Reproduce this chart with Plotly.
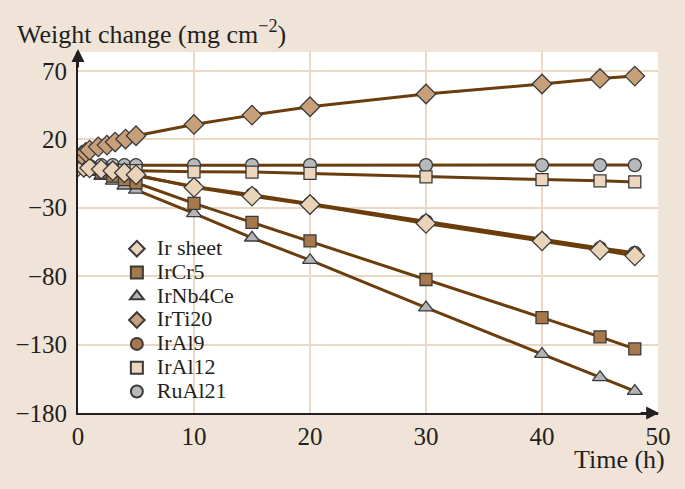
import plotly.graph_objects as go

# ---- data ----
t_std = [0, 0.5, 1, 2, 3, 4, 5, 10, 15, 20, 30, 40, 45, 48]
t_ti = [0.33, 0.67, 1, 1.75, 2.5, 3.2, 4.1, 5, 10, 15, 20, 30, 40, 45, 48]

ir_sheet = [0, -0.5, -1, -2, -3, -4.5, -6, -15.2, -21.6, -27.7, -41.5, -54.3, -61, -65.2]
ircr5 = [0, -1, -2, -4, -7, -9.5, -11.8, -26.9, -40.8, -54.3, -82.5, -110.3, -124.4, -133.2]
irnb4ce = [0, -1.5, -3, -7, -10.5, -14, -17, -34.2, -52, -68.4, -103, -137, -154, -164]
irti20 = [8.4, 10.4, 12, 14.4, 15.7, 17.9, 20.1, 22.5, 30.8, 37.6, 43.7, 53, 60.3, 64.4, 66.1]
iral9 = [0, -0.5, -1, -2.5, -3.5, -5, -6.5, -14.5, -20.5, -27, -40, -53.5, -59.5, -63]
iral12 = [0, -1, -1.5, -2, -2.5, -2.8, -3, -3.8, -4, -5, -7.5, -9.5, -10.4, -11.2]
rual21 = [0, 0, 0.5, 1, 1, 1, 1, 1.1, 1.1, 1.1, 1.1, 1.1, 1.1, 1.1]

x_ticks = [0, 10, 20, 30, 40, 50]
y_ticks = [70, 20, -30, -80, -130, -180]

LINE = "#6b3d0c"
EDGE = "#3a3a3a"
BG = "#efe4d7"
GRID = "#ead8c4"
FONT = "Liberation Serif"

# name, t, y, symbol, fill, size, legend rank
series = [
    ("RuAl21", t_std, rual21, "circle", "#b8b9bb", 13, 7),
    ("IrAl12", t_std, iral12, "square", "#ecd6bd", 12, 6),
    ("IrNb4Ce", t_std, irnb4ce, "triangle-up", "#b3b4b6", 13, 3),
    ("IrCr5", t_std, ircr5, "square", "#a7784b", 12, 2),
    ("IrAl9", t_std, iral9, "circle", "#a7784b", 13, 5),
    ("Ir sheet", t_std, ir_sheet, "diamond", "#ead4b9", 15, 1),
    ("IrTi20", t_ti, irti20, "diamond", "#c7a07a", 15, 4),
]

fig = go.Figure()

for name, t, y, sym, fill, size, rank in series:
    fig.add_trace(go.Scatter(x=t, y=y, mode="lines", line=dict(color=LINE, width=3),
                             showlegend=False, hoverinfo="skip"))

for name, t, y, sym, fill, size, rank in series:
    fig.add_trace(go.Scatter(x=t, y=y, mode="markers",
                             name='<span style="font-size:22px">' + name + '</span>',
                             legendrank=rank,
                             marker=dict(symbol=sym, size=size, color=fill,
                                         line=dict(color=EDGE, width=1.3))))

fig.update_layout(
    width=685, height=489,
    paper_bgcolor=BG, plot_bgcolor="white",
    margin=dict(l=78, r=27, t=52, b=76),
    font=dict(family=FONT, size=25, color="#231f20"),
    showlegend=True,
    legend=dict(x=0.067, y=0.502, xanchor="left", yanchor="top",
                bgcolor="rgba(0,0,0,0)", font=dict(size=16, family=FONT),
                itemsizing="constant", itemwidth=30, tracegroupgap=0),
    xaxis=dict(range=[0, 50], tickvals=x_ticks, showgrid=True, gridcolor=GRID, gridwidth=2,
               showline=True, linecolor="#231f20", linewidth=2, zeroline=False,
               ticks="", ticklabelstandoff=0, fixedrange=True),
    yaxis=dict(range=[-180, 83.7], tickvals=y_ticks, showgrid=True, gridcolor=GRID, gridwidth=2,
               showline=True, linecolor="#231f20", linewidth=2, zeroline=False,
               ticks="", ticklabelstandoff=4, fixedrange=True),
    annotations=[
        dict(text="Weight change (mg cm<sup>−2</sup>)", xref="paper", yref="paper",
             x=-0.109, y=1, xanchor="left", yanchor="middle", yshift=20, showarrow=False,
             font=dict(size=26, family=FONT)),
        dict(text="Time (h)", xref="paper", yref="paper", x=1.016, y=0,
             xanchor="right", yanchor="middle", yshift=-46, showarrow=False,
             font=dict(size=26, family=FONT)),
        dict(text="", xref="paper", yref="paper", x=1.002, y=0, ax=-20, ay=0,
             showarrow=True, arrowhead=2, arrowsize=1.3, arrowwidth=2, arrowcolor="#231f20"),
        dict(text="", xref="paper", yref="paper", x=0, y=1.008, ax=0, ay=20,
             showarrow=True, arrowhead=2, arrowsize=1.3, arrowwidth=2, arrowcolor="#231f20"),
    ],
)

fig.write_html("out.html", config={"displayModeBar": False},
               post_script="document.body.style.margin='0';document.body.style.background='%s';" % BG)
